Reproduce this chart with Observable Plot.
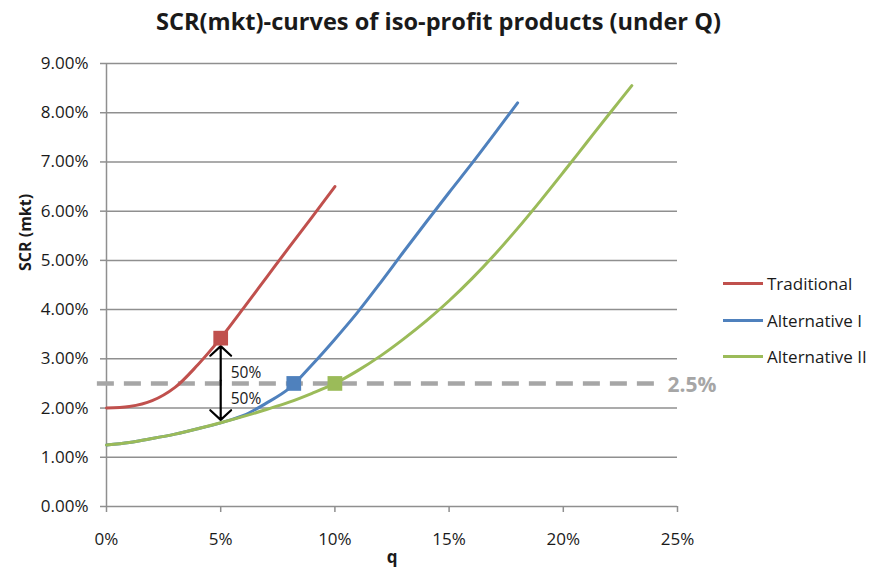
<!DOCTYPE html>
<html>
<head>
<meta charset="utf-8">
<script src="https://cdn.jsdelivr.net/npm/d3@7"></script>
<script src="https://cdn.jsdelivr.net/npm/@observablehq/plot@0.6"></script>
<style>
  html, body { margin: 0; padding: 0; background: #fff; }
  #wrap { position: relative; width: 872px; height: 571px; overflow: hidden; font-family: "Open Sans", sans-serif; color: #1a1a1a; }
  #title { position: absolute; left: 0; top: 10px; width: 872px; height: 40px; text-align: center; }
  #title span { display: inline-block; font-weight: bold; font-size: 23px; line-height: 23px; white-space: nowrap; transform-origin: center; }
  #chart { position: absolute; left: 0; top: 50px; }
  .leg { position: absolute; left: 723px; height: 20px; display: flex; align-items: center; font-size: 17px; white-space: nowrap; }
  .leg i { display: inline-block; width: 40px; height: 3px; margin-right: 4px; }
</style>
</head>
<body>
<div id="wrap">
  <div id="title"><span id="titleText"></span></div>
  <div id="chart"></div>
</div>
<script>
// ---- data ----
const titleText = "SCR(mkt)-curves of iso-profit products (under Q)";
const xLabel = "q";
const yLabel = "SCR (mkt)";
const seriesNames = ["Traditional", "Alternative I", "Alternative II"];
const seriesColors = ["#c0504d", "#4f81bd", "#9bbb59"];
const xTicks = [0, 5, 10, 15, 20, 25];
const yTicks = [0, 1, 2, 3, 4, 5, 6, 7, 8, 9];

const qTrad   = [0, 1, 2, 3, 4, 5, 6, 7, 8, 9, 10];
const scrTrad = [2.00, 2.03, 2.15, 2.42, 2.88, 3.42, 4.03, 4.65, 5.27, 5.88, 6.50];

const qAlt1   = [0, 1, 2, 3, 4, 5, 6, 7, 8, 9, 10, 11, 12, 13, 14, 15, 16, 17, 18];
const scrAlt1 = [1.25, 1.30, 1.38, 1.47, 1.58, 1.70, 1.85, 2.10, 2.40, 2.88, 3.40, 3.95, 4.55, 5.17, 5.78, 6.38, 6.97, 7.58, 8.20];

const qAlt2   = [0, 1, 2, 3, 4, 5, 6, 7, 8, 9, 10, 11, 12, 13, 14, 15, 16, 17, 18, 19, 20, 21, 22, 23];
const scrAlt2 = [1.25, 1.30, 1.38, 1.47, 1.58, 1.70, 1.83, 1.97, 2.12, 2.30, 2.50, 2.76, 3.06, 3.40, 3.77, 4.18, 4.63, 5.12, 5.65, 6.21, 6.79, 7.38, 7.97, 8.55];

const markerQ   = [5, 8.2, 10];
const markerSCR = [3.42, 2.5, 2.5];

const threshold = 2.5;
const thresholdLabel = "2.5%";
const thresholdFrom = -0.4;
const thresholdTo = 24.3;

const arrowQ = 5;
const arrowTop = 3.42;
const arrowBottom = 1.7;
const halfLabels = ["50%", "50%"];

// ---- build tables ----
const qs = [qTrad, qAlt1, qAlt2];
const scrs = [scrTrad, scrAlt1, scrAlt2];
const rows = seriesNames.flatMap((s, k) => qs[k].map((q, i) => ({series: s, q, scr: scrs[k][i]})));
const markers = seriesNames.map((s, k) => ({series: s, q: markerQ[k], scr: markerSCR[k]}));
const arrowMid = (arrowTop + arrowBottom) / 2;

// ---- title ----
const tt = document.getElementById("titleText");
tt.textContent = titleText;

// ---- legend ----
const legendY = [273, 310, 346];
const wrap = document.getElementById("wrap");
seriesNames.forEach((s, k) => {
  const d = document.createElement("div");
  d.className = "leg";
  d.style.top = legendY[k] + "px";
  d.innerHTML = `<i style="background:${seriesColors[k]}"></i><span>${s}</span>`;
  wrap.appendChild(d);
});

const grid = "#8f8f8f";
const chart = Plot.plot({
  width: 872,
  height: 521,
  marginTop: 13,
  marginBottom: 65,
  marginLeft: 106,
  marginRight: 195,
  x: {domain: [0, 25]},
  y: {domain: [0, 9]},
  color: {domain: seriesNames, range: seriesColors},
  style: {fontFamily: "Open Sans", fontSize: "17px", color: "#1a1a1a", background: "#fff", overflow: "visible"},
  marks: [
    Plot.gridY(yTicks.filter(d => d > 0), {stroke: grid, strokeOpacity: 1, strokeWidth: 1.5}),
    Plot.ruleX([0], {stroke: grid, strokeWidth: 1.5}),
    Plot.ruleY([0], {stroke: grid, strokeWidth: 1.5}),
    Plot.axisY({ticks: yTicks, tickSize: 6, tickPadding: 12, tickFormat: d => d.toFixed(2) + "%", stroke: grid, strokeWidth: 1.5, fill: "#1a1a1a", label: null}),
    Plot.axisX({ticks: xTicks, tickSize: 6, tickPadding: 20, tickFormat: d => d + "%", stroke: grid, strokeWidth: 1.5, fill: "#1a1a1a", label: null}),
    Plot.ruleY([threshold], {x1: thresholdFrom, x2: thresholdTo, stroke: "#a6a6a6", strokeWidth: 4.5, strokeDasharray: "17,10"}),
    Plot.text([thresholdLabel], {x: thresholdTo, y: threshold, dx: 6, dy: 2, textAnchor: "start", fill: "#a6a6a6", fontWeight: "bold", fontSize: 21}),
    Plot.line(rows, {x: "q", y: "scr", z: "series", stroke: "series", strokeWidth: 3, curve: "catmull-rom"}),
    Plot.arrow([{q: arrowQ, from: arrowMid, to: arrowTop}], {x1: "q", x2: "q", y1: "from", y2: "to", stroke: "#000", strokeWidth: 2.2, headLength: 12, headAngle: 95, insetEnd: 8}),
    Plot.arrow([{q: arrowQ, from: arrowMid, to: arrowBottom}], {x1: "q", x2: "q", y1: "from", y2: "to", stroke: "#000", strokeWidth: 2.2, headLength: 12, headAngle: 95, insetEnd: 3}),
    Plot.text([halfLabels[0]], {x: arrowQ, y: threshold, dx: 10, dy: -10, textAnchor: "start", fontSize: 15.5, fill: "#1a1a1a"}),
    Plot.text([halfLabels[1]], {x: arrowQ, y: threshold, dx: 10, dy: 16, textAnchor: "start", fontSize: 15.5, fill: "#1a1a1a"}),
    Plot.dot(markers, {x: "q", y: "scr", fill: "series", symbol: "square", r: 8.3}),
    Plot.text([xLabel], {frameAnchor: "bottom", dy: 56, fontWeight: "bold", fontSize: 17}),
    Plot.text([yLabel], {frameAnchor: "left", rotate: -90, dx: -81, dy: -14, fontWeight: "bold", fontSize: 16})
  ]
});
document.getElementById("chart").appendChild(chart);

// fit title to reference width
const w = tt.getBoundingClientRect().width;
tt.style.transform = `translateX(2px) scaleX(${565 / w})`;
</script>
</body>
</html>
